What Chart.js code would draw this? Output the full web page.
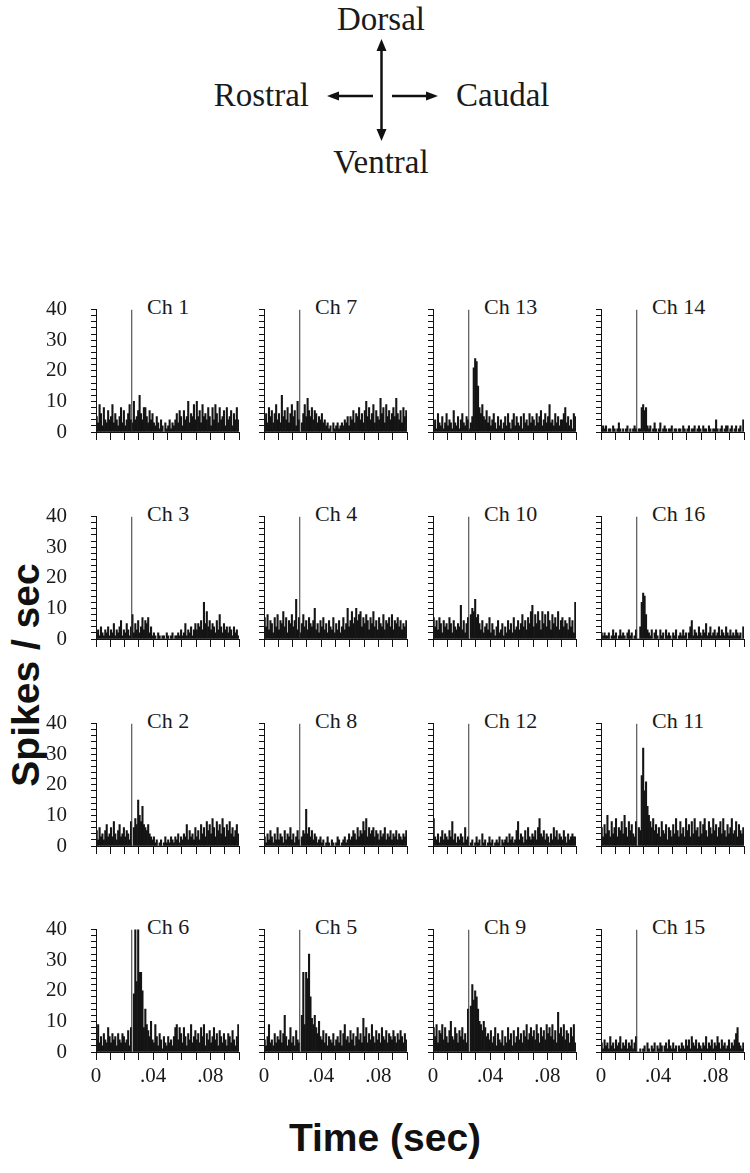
<!DOCTYPE html>
<html>
<head>
<meta charset="utf-8">
<script src="https://cdn.jsdelivr.net/npm/chart.js@4.4.1/dist/chart.umd.min.js"></script>
<style>
  body { margin: 0; background: #fff; }
  #page { position: relative; width: 750px; height: 1173px; overflow: hidden; background: #fff; }
  #page canvas { position: absolute; }
  #overlay { position: absolute; left: 0; top: 0; }
  .serif { font-family: "Liberation Serif", "DejaVu Serif", serif; fill: #1a1a1a; }
  .title { font-family: "Liberation Sans", Arial, sans-serif; font-weight: bold; font-size: 39px; fill: #111; }
</style>
</head>
<body>
<div id="page">
  <svg id="overlay" width="750" height="1173">
    <!-- orientation compass -->
    <g stroke="#111" stroke-width="2.5" fill="none">
      <line x1="381.5" y1="48" x2="381.5" y2="132"/>
      <line x1="373" y1="96" x2="336" y2="96"/>
      <line x1="392" y1="96" x2="429" y2="96"/>
    </g>
    <g fill="#111">
      <polygon points="381.5,39 376.5,51 386.5,51"/>
      <polygon points="381.5,141 376.5,129 386.5,129"/>
      <polygon points="327,96 339,91.5 339,100.5"/>
      <polygon points="438,96 426,91.5 426,100.5"/>
    </g>
    <g class="serif" font-size="33">
      <text x="381" y="30" text-anchor="middle">Dorsal</text>
      <text x="309" y="106" text-anchor="end">Rostral</text>
      <text x="456" y="106">Caudal</text>
      <text x="381" y="173" text-anchor="middle">Ventral</text>
    </g>
    <text class="title" transform="translate(39,675) rotate(-90)" text-anchor="middle">Spikes / sec</text>
    <text class="title" x="385" y="1151" text-anchor="middle">Time (sec)</text>
    <g id="chLabels" class="serif" font-size="22"></g>
  </svg>
</div>
<script>
// spike rates per 1 ms bin, 0 - 0.1 s
const ch1 = [
  5,3,9,6,2,8,4,3,7,4, 5,9,3,6,4,2,5,8,3,7, 2,4,6,9,4,3,10,4,5,7, 12,6,4,8,8,5,3,7,4,6,
  3,2,5,3,1,4,2,0,3,1, 2,4,1,3,2,4,6,3,7,5, 2,7,4,5,10,3,6,5,9,4, 10,5,7,3,9,5,6,4,8,5,
  2,8,4,9,6,3,8,4,5,7, 2,8,4,5,7,2,6,4,8,4
];
const ch7 = [
  4,6,3,8,5,7,3,6,9,4, 6,3,12,5,7,4,8,3,6,9, 5,7,2,10,4,0,3,6,9,5, 11,7,5,8,4,7,6,3,5,4,
  6,3,4,2,3,1,2,0,3,1, 2,3,1,2,3,2,4,3,5,2, 5,4,7,3,6,5,8,4,6,3, 7,10,5,8,4,6,9,3,7,5,
  4,11,6,8,3,9,5,7,4,6, 8,5,11,6,4,7,3,8,5,7
];
const ch13 = [
  2,4,1,6,3,2,5,1,3,6, 2,4,3,1,7,3,2,5,1,4, 6,3,2,5,4,1,3,5,21,24, 23,15,8,6,9,5,4,7,3,5,
  2,4,6,3,1,5,2,4,1,3, 5,2,6,3,1,4,6,2,5,3, 2,5,1,6,3,4,2,6,3,5, 4,2,6,3,5,7,2,4,6,3,
  5,9,3,4,2,6,3,5,2,4, 4,6,8,3,5,2,4,1,6,5
];
const ch14 = [
  1,2,1,2,0,1,1,0,2,1, 0,1,3,1,0,1,0,1,2,0, 1,0,1,2,1,0,1,1,8,9, 7,8,2,1,2,0,1,3,1,0,
  1,3,0,1,2,1,0,1,1,2, 0,1,1,0,1,1,0,2,1,0, 1,2,0,1,1,2,0,1,2,1, 0,2,1,1,0,2,1,0,1,1,
  4,1,0,1,2,0,1,2,2,0, 1,2,0,1,2,0,1,2,0,4
];
const ch3 = [
  2,3,1,4,2,1,3,2,4,1, 3,2,5,1,3,2,4,6,1,3, 2,5,3,1,4,8,2,5,3,6, 2,4,7,3,6,5,7,2,4,1,
  2,1,0,2,1,0,1,1,0,2, 1,0,1,2,0,1,1,2,1,3, 1,2,5,1,3,2,4,1,3,5, 3,5,4,6,3,12,5,9,4,6,
  3,5,4,2,6,3,8,4,2,5, 3,4,2,4,3,1,4,2,3,1
];
const ch4 = [
  7,4,8,3,6,5,2,7,4,8, 3,6,5,9,4,7,2,6,5,8, 4,6,13,3,7,2,5,8,4,6, 3,7,5,4,6,10,3,5,2,6,
  4,7,3,5,2,6,4,3,7,2, 5,3,6,2,4,7,3,5,10,4, 6,9,5,7,10,6,8,9,4,7, 5,8,6,3,7,5,9,4,6,3,
  7,5,4,8,3,6,5,7,4,8, 3,6,5,7,4,6,3,5,4,6
];
const ch10 = [
  7,4,6,3,7,5,2,6,4,5, 3,7,5,2,6,4,3,5,4,11, 3,6,2,5,7,0,8,10,9,13, 7,8,5,3,6,2,4,5,3,7,
  2,5,3,1,4,6,2,3,5,1, 4,2,6,3,5,2,7,3,4,6, 3,5,8,4,6,3,7,5,9,11, 4,8,5,9,6,3,9,5,8,4,
  9,6,3,8,5,7,4,9,3,6, 7,4,6,5,3,7,4,6,2,12
];
const ch16 = [
  2,1,2,1,1,2,0,1,3,1, 2,0,1,3,1,2,1,0,2,3, 1,2,0,1,3,0,0,4,12,15, 14,8,3,2,1,3,0,2,3,1,
  0,3,1,2,0,3,1,2,1,0, 2,1,3,0,1,2,1,3,1,2, 0,2,4,6,1,3,2,1,4,2, 1,3,2,5,1,2,4,1,2,3,
  1,2,4,1,3,2,1,4,2,1, 3,1,2,1,3,2,1,2,0,4
];
const ch2 = [
  5,2,6,3,4,2,5,7,3,4, 6,3,8,4,2,5,7,3,4,6, 3,5,4,2,8,0,6,9,7,15, 10,8,13,7,6,5,7,4,3,2,
  3,1,2,0,1,2,0,1,3,1, 2,1,3,2,1,3,2,4,1,3, 2,4,3,7,2,5,3,4,2,6, 3,5,2,7,4,6,3,8,5,7,
  4,9,6,3,8,5,7,4,9,6, 3,7,5,8,4,6,3,5,7,4
];
const ch8 = [
  3,1,4,2,5,3,1,4,2,6, 2,4,3,1,5,2,4,3,6,2, 4,1,3,5,2,0,3,5,4,12, 4,6,3,5,2,4,3,1,2,3,
  1,2,0,1,3,1,0,2,1,0, 1,3,2,0,1,2,3,1,2,4, 2,3,5,4,2,6,3,5,4,8, 5,9,3,6,4,5,6,3,5,4,
  2,5,3,4,6,2,4,3,5,2, 4,3,5,2,4,3,2,4,3,5
];
const ch12 = [
  9,3,2,4,1,3,5,2,4,3, 2,5,3,8,2,4,1,3,2,4, 3,1,6,2,3,0,1,2,0,1, 3,1,2,0,4,1,2,0,1,3,
  1,2,0,1,2,1,3,0,2,1, 2,3,1,4,2,3,1,2,5,8, 2,4,3,1,5,2,6,3,2,4, 3,5,2,6,9,4,3,5,2,4,
  3,1,4,2,6,3,5,2,4,3, 2,5,3,1,4,2,3,4,3,3
];
const ch11 = [
  6,3,7,4,10,5,3,8,4,6, 9,3,6,5,8,4,10,6,3,8, 5,7,4,3,8,0,6,5,23,32, 18,21,13,10,8,6,9,5,7,4,
  6,3,8,5,4,7,2,6,5,3, 7,4,9,5,3,8,4,6,3,9, 5,7,3,8,4,9,5,6,3,8, 4,7,9,5,3,8,6,4,9,5,
  7,3,6,8,4,9,5,3,7,4, 6,9,4,5,8,3,7,5,4,6
];
const ch6 = [
  4,9,3,5,2,6,4,3,8,5, 3,6,4,5,2,6,4,3,6,5, 3,4,7,2,8,0,19,48,23,48, 26,26,20,8,14,9,7,5,10,4,
  3,9,5,2,6,4,1,5,3,2, 5,3,4,2,5,8,9,4,8,6, 3,8,5,2,6,4,9,3,5,7, 4,6,3,8,5,9,2,6,4,7,
  3,5,8,4,6,2,7,5,3,6, 4,2,6,5,3,7,4,2,5,9
];
const ch5 = [
  4,2,5,9,3,4,2,6,3,5, 4,7,3,6,12,5,2,4,8,3, 5,2,7,4,3,0,12,26,9,26, 24,32,18,11,9,12,8,6,10,5,
  4,7,3,6,2,5,4,3,6,2, 4,5,3,7,2,6,9,4,5,3, 7,4,6,2,5,8,4,6,3,11, 5,8,3,6,4,9,5,3,7,4,
  6,3,8,5,4,7,3,6,5,4, 7,5,3,6,4,7,5,3,6,4
];
const ch9 = [
  8,5,9,3,7,6,9,4,8,5, 3,7,10,5,4,8,6,3,7,5, 8,4,6,3,14,0,15,22,17,20, 18,14,10,9,7,10,8,5,6,4,
  7,3,5,8,2,6,4,3,7,2, 5,3,8,4,6,2,7,3,5,8, 4,6,3,7,5,9,4,6,8,5, 7,4,9,6,3,8,5,7,4,9,
  6,8,5,9,4,7,3,13,6,8, 5,9,4,7,6,3,8,5,9,3
];
const ch15 = [
  3,1,4,2,3,1,5,2,3,1, 4,2,3,5,1,3,2,4,1,3, 2,4,1,3,5,0,0,1,0,1, 2,0,3,1,0,2,1,3,0,2,
  1,3,2,0,2,3,1,4,2,1, 3,1,2,0,2,1,3,2,1,4, 2,4,1,5,3,2,4,1,3,2, 1,3,2,5,1,3,2,4,1,3,
  2,5,3,1,4,2,3,1,2,4, 1,3,2,4,6,8,3,2,1,3
];

// panel arrangement (rows top to bottom)
const gridNames = [
  ['Ch 1', 'Ch 7', 'Ch 13', 'Ch 14'],
  ['Ch 3', 'Ch 4', 'Ch 10', 'Ch 16'],
  ['Ch 2', 'Ch 8', 'Ch 12', 'Ch 11'],
  ['Ch 6', 'Ch 5', 'Ch 9', 'Ch 15']
];
const seriesByName = {
  'Ch 1': ch1, 'Ch 7': ch7, 'Ch 13': ch13, 'Ch 14': ch14,
  'Ch 3': ch3, 'Ch 4': ch4, 'Ch 10': ch10, 'Ch 16': ch16,
  'Ch 2': ch2, 'Ch 8': ch8, 'Ch 12': ch12, 'Ch 11': ch11,
  'Ch 6': ch6, 'Ch 5': ch5, 'Ch 9': ch9, 'Ch 15': ch15
};

const binWidth = 0.001;
const stimTime = 0.025;
const xMax = 0.1;
const yMax = 40;
const xTickLabels = { 0: '0', 4: '.04', 8: '.08' };

// page geometry
const colX = [96, 264, 433, 601];
const rowY = [289, 496, 703, 909];
const PAD_L = 50, PAD_T = 16, PLOT = 143, PAD_R = 10, PAD_B = 40;

const page = document.getElementById('page');
const labelGroup = document.getElementById('chLabels');
const tickFont = { family: 'Liberation Serif', size: 21 };

function makePanel(r, c) {
  const name = gridNames[r][c];
  const values = seriesByName[name];
  const showY = c === 0;
  const showX = r === gridNames.length - 1;

  const cv = document.createElement('canvas');
  cv.width = PAD_L + PLOT + PAD_R;
  cv.height = PAD_T + PLOT + PAD_B;
  cv.style.left = (colX[c] - PAD_L) + 'px';
  cv.style.top = (rowY[r] - PAD_T) + 'px';
  page.appendChild(cv);

  new Chart(cv, {
    type: 'bar',
    data: {
      datasets: [
        {
          type: 'line',
          data: [{ x: stimTime, y: 0 }, { x: stimTime, y: yMax }],
          borderColor: '#333',
          borderWidth: 1,
          pointRadius: 0,
          clip: 0,
          order: 0
        },
        {
          data: values.map((v, i) => ({ x: (i + 0.5) * binWidth, y: v })),
          backgroundColor: '#141414',
          borderWidth: 0,
          barPercentage: 1,
          categoryPercentage: 1,
          clip: 0,
          order: 1
        }
      ]
    },
    options: {
      responsive: false,
      animation: false,
      events: [],
      layout: { padding: { top: PAD_T, right: PAD_R, left: 0, bottom: 0 } },
      plugins: { legend: { display: false }, tooltip: { enabled: false } },
      scales: {
        x: {
          type: 'linear',
          min: 0,
          max: xMax,
          offset: false,
          border: { display: true, color: '#111', width: 1 },
          grid: { display: true, drawOnChartArea: false, drawTicks: true, tickLength: 8, color: '#111', offset: false },
          ticks: {
            stepSize: 0.01,
            autoSkip: false,
            maxRotation: 0,
            padding: 4,
            color: '#1a1a1a',
            font: tickFont,
            callback: v => {
              if (!showX) return '';
              const k = Math.round(v * 100);
              return xTickLabels[k] !== undefined ? xTickLabels[k] : '';
            }
          },
          afterFit: s => { s.height = PAD_B; }
        },
        y: {
          min: 0,
          max: yMax,
          border: { display: true, color: '#111', width: 1 },
          grid: { display: true, drawOnChartArea: false, drawTicks: true, tickLength: 5, color: '#111' },
          ticks: {
            stepSize: 2,
            autoSkip: false,
            padding: 24,
            color: '#1a1a1a',
            font: tickFont,
            callback: v => (showY && v % 10 === 0) ? String(v) : ''
          },
          afterFit: s => { s.width = PAD_L; }
        }
      }
    }
  });

  const t = document.createElementNS('http://www.w3.org/2000/svg', 'text');
  t.setAttribute('x', colX[c] + 51);
  t.setAttribute('y', rowY[r] + 25);
  t.textContent = name;
  labelGroup.appendChild(t);
}

for (let r = 0; r < gridNames.length; r++) {
  for (let c = 0; c < gridNames[r].length; c++) {
    makePanel(r, c);
  }
}
</script>
</body>
</html>
